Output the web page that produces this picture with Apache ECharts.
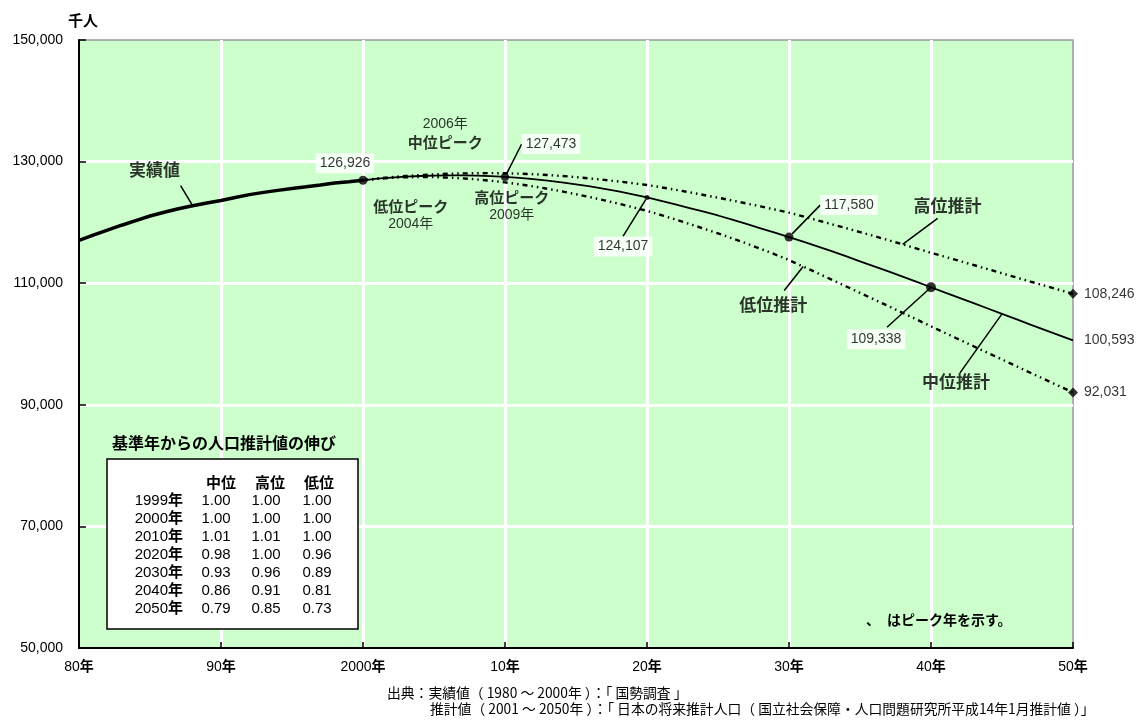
<!DOCTYPE html>
<html>
<head>
<meta charset="utf-8">
<title>日本の人口推移と将来推計</title>
<script src="https://cdn.jsdelivr.net/npm/echarts@6/dist/echarts.min.js"></script>
<style>
  html, body { margin: 0; padding: 0; background: #fff; }
  #chart { width: 1142px; height: 720px; }
</style>
</head>
<body>
<div id="chart"></div>
<script>
// ---- data (千人) ----
const actualStartYear = 1980;
const actualPop = [117060, 117902, 118728, 119536, 120305, 121049, 121660, 122239, 122745, 123205,
  123611, 124101, 124567, 124938, 125265, 125570, 125864, 126166, 126486, 126686, 126926];

const projStartYear = 2000;
const midPop = [126926,
  127183, 127377, 127524, 127635, 127708, 127741, 127733, 127686, 127599, 127473,
  127309, 127107, 126865, 126585, 126266, 125910, 125517, 125087, 124621, 124107,
  123530, 122950, 122360, 121760, 121136, 120440, 119740, 119030, 118310, 117580,
  116830, 116050, 115260, 114440, 113600, 112770, 111930, 111070, 110210, 109338,
  108460, 107590, 106710, 105840, 104960, 104080, 103200, 102330, 101460, 100593];
const highPop = [126926,
  127210, 127440, 127630, 127790, 127910, 128000, 128060, 128090, 128100, 128080,
  128020, 127930, 127800, 127640, 127450, 127230, 126990, 126730, 126450, 126150,
  125770, 125370, 124950, 124510, 124060, 123600, 123120, 122630, 122120, 121600,
  120980, 120350, 119710, 119060, 118400, 117740, 117070, 116390, 115700, 115000,
  114340, 113670, 112990, 112310, 111630, 110950, 110270, 109600, 108920, 108246];
const lowPop = [126926,
  127150, 127320, 127420, 127460, 127440, 127370, 127240, 127070, 126850, 126580,
  126270, 125920, 125530, 125100, 124640, 124150, 123630, 123080, 122500, 121900,
  121200, 120480, 119740, 118980, 118200, 117380, 116540, 115660, 114760, 113800,
  112740, 111670, 110590, 109500, 108410, 107320, 106230, 105130, 104020, 102900,
  101810, 100720, 99630, 98540, 97450, 96360, 95270, 94190, 93110, 92031];

const xTickYears = [1980, 1990, 2000, 2010, 2020, 2030, 2040, 2050];
const xTickText = ['80', '90', '2000', '10', '20', '30', '40', '50'];
const yTicks = [50000, 70000, 90000, 110000, 130000, 150000];

// 基準年からの人口推計値の伸び
const tableYears = ['1999', '2000', '2010', '2020', '2030', '2040', '2050'];
const ratioMid  = [1.00, 1.00, 1.01, 0.98, 0.93, 0.86, 0.79];
const ratioHigh = [1.00, 1.00, 1.01, 1.00, 0.96, 0.91, 0.85];
const ratioLow  = [1.00, 1.00, 1.00, 0.96, 0.89, 0.81, 0.73];

const peakYears = { mid: 2006, high: 2009, low: 2004 };

// ---- helpers ----
const FONT = "'Liberation Sans', Arial, 'Noto Sans CJK JP', sans-serif";
const JP = "'Noto Sans CJK JP', 'Liberation Sans', sans-serif";
const toPairs = (start, arr) => arr.map((v, i) => [start + i, v]);
const at = (start, arr, year) => [year, arr[year - start]];
const fmt = v => v.toLocaleString('en-US');

const valueLabel = {
  show: true, position: 'inside', color: '#000', fontFamily: FONT, fontSize: 14,
  backgroundColor: '#fff', padding: [3, 4], formatter: p => fmt(p.value[1])
};
const leader = { show: true, lineStyle: { color: '#000', width: 1.5 } };
const dashDot = { color: '#000', width: 2.4, type: [5, 4, 1.5, 4, 1.5, 4], cap: 'butt' };

// label displacement for each callout (pixels)
const calloutShift = [[46, -33], [-24, 49], [60, -32], [-55, 52]];
const nameShift = [[-38, -36], [45, -39], [-30, 38], [-46, 68]];
const peakShift = [[-3, -42], [-9, 38], [21, 33]];

// hand-drawn leader lines: anchor point on a series and the pixel offset of the far end
const leaderLines = [
  { point: at(actualStartYear, actualPop, 1988), end: [-12, -20] },
  { point: at(projStartYear, highPop, 2038), end: [35, -26] },
  { point: at(projStartYear, lowPop, 2031), end: [-19, 24] },
  { point: at(projStartYear, midPop, 2045), end: [-42, 59] },
  { point: at(projStartYear, midPop, 2040), end: [-44, 40] }
];

const chart = echarts.init(document.getElementById('chart'), null, { renderer: 'canvas' });

const option = {
  animation: false,
  backgroundColor: '#fff',
  textStyle: { fontFamily: FONT },
  grid: {
    left: 79, right: 69, top: 40, bottom: 72,
    show: true, backgroundColor: '#CCFFCC', borderColor: '#999', borderWidth: 1.5,
    outerBoundsMode: 'none'
  },
  xAxis: {
    type: 'value', min: 1980, max: 2050, interval: 10,
    axisLine: { show: true, onZero: false, lineStyle: { color: '#000', width: 2 } },
    axisTick: { show: true, inside: true, length: 6, lineStyle: { color: '#000', width: 1.5 } },
    splitLine: { show: true, showMinLine: false, showMaxLine: false, lineStyle: { color: '#fff', width: 3 } },
    axisLabel: {
      margin: 12,
      formatter: v => {
        const i = xTickYears.indexOf(v);
        return i < 0 ? '' : '{n|' + xTickText[i] + '}{y|年}';
      },
      rich: {
        n: { fontFamily: FONT, fontSize: 14, color: '#000' },
        y: { fontFamily: FONT, fontSize: 14, fontWeight: 'bold', color: '#000' }
      }
    }
  },
  yAxis: {
    type: 'value', min: yTicks[0], max: yTicks[yTicks.length - 1], interval: yTicks[1] - yTicks[0],
    name: '千人', nameLocation: 'end', nameGap: 12,
    nameTextStyle: { fontFamily: JP, fontSize: 15, fontWeight: 'bold', color: '#000', align: 'left', padding: [0, 0, 0, -11] },
    axisLine: { show: true, onZero: false, lineStyle: { color: '#000', width: 2 } },
    axisTick: { show: true, inside: true, length: 7, lineStyle: { color: '#000', width: 1.5 } },
    splitLine: { show: true, showMinLine: false, showMaxLine: false, lineStyle: { color: '#fff', width: 3 } },
    axisLabel: { margin: 16, fontFamily: FONT, fontSize: 14, color: '#000', formatter: v => fmt(v) }
  },
  series: [
    {
      name: '実績値', type: 'line', data: toPairs(actualStartYear, actualPop),
      symbol: 'none', lineStyle: { color: '#000', width: 3.5 }, z: 4
    },
    {
      name: '高位推計', type: 'line', data: toPairs(projStartYear, highPop),
      symbol: 'none', lineStyle: dashDot, z: 3
    },
    {
      name: '低位推計', type: 'line', data: toPairs(projStartYear, lowPop),
      symbol: 'none', lineStyle: dashDot, z: 3
    },
    {
      name: '中位推計', type: 'line', data: toPairs(projStartYear, midPop),
      symbol: 'none', lineStyle: { color: '#000', width: 1.8 }, z: 3
    },
    // 2000年の実績値
    {
      type: 'scatter', z: 6, symbol: 'circle', symbolSize: 9,
      itemStyle: { color: '#000' },
      data: [at(actualStartYear, actualPop, 2000)],
      label: valueLabel,
      labelLayout: () => ({ dx: -18, dy: -17 })
    },
    // 中位推計の節目
    {
      type: 'scatter', z: 6, symbol: 'circle',
      itemStyle: { color: '#000' },
      data: [
        { value: at(projStartYear, midPop, 2010), symbolSize: 8 },
        { value: at(projStartYear, midPop, 2020), symbolSize: 5 },
        { value: at(projStartYear, midPop, 2030), symbolSize: 9 },
        { value: at(projStartYear, midPop, 2040), symbolSize: 10, labelLine: { show: false } }
      ],
      label: valueLabel,
      labelLine: leader,
      labelLayout: p => ({ dx: calloutShift[p.dataIndex][0], dy: calloutShift[p.dataIndex][1] })
    },
    // 2050年の値
    {
      type: 'scatter', z: 6,
      itemStyle: { color: '#000' },
      label: { show: true, position: 'right', color: '#000', fontFamily: FONT, fontSize: 14, formatter: p => fmt(p.value[1]) },
      data: [
        { value: at(projStartYear, highPop, 2050), symbol: 'diamond', symbolSize: 10, label: { distance: 6 } },
        { value: at(projStartYear, midPop, 2050), symbol: 'circle', symbolSize: 0, label: { distance: 11 } },
        { value: at(projStartYear, lowPop, 2050), symbol: 'diamond', symbolSize: 10, label: { distance: 6 } }
      ]
    },
    // 系列名の注記
    {
      type: 'scatter', z: 7, symbolSize: 1,
      itemStyle: { color: 'rgba(0,0,0,0)' },
      data: [
        { name: '実績値', value: at(actualStartYear, actualPop, 1988) },
        { name: '高位推計', value: at(projStartYear, highPop, 2038) },
        { name: '低位推計', value: at(projStartYear, lowPop, 2031) },
        { name: '中位推計', value: at(projStartYear, midPop, 2045) }
      ],
      label: { show: true, position: 'inside', formatter: '{b}', color: '#000', fontFamily: JP, fontSize: 17, fontWeight: 'bold' },
      labelLayout: p => ({ dx: nameShift[p.dataIndex][0], dy: nameShift[p.dataIndex][1] })
    },
    // ピーク年の注記
    {
      type: 'scatter', z: 7, symbolSize: 1,
      itemStyle: { color: 'rgba(0,0,0,0)' },
      data: [
        { value: at(projStartYear, midPop, peakYears.mid), label: { formatter: '{r|' + peakYears.mid + '年}\n{b|中位ピーク}' } },
        { value: at(projStartYear, lowPop, peakYears.low), label: { formatter: '{b|低位ピーク}\n{r|' + peakYears.low + '年}' } },
        { value: at(projStartYear, highPop, peakYears.high), label: { formatter: '{b|高位ピーク}\n{r|' + peakYears.high + '年}' } }
      ],
      label: {
        show: true, position: 'inside', align: 'center', color: '#000',
        rich: {
          r: { fontFamily: FONT, fontSize: 14, color: '#000', lineHeight: 18, align: 'center' },
          b: { fontFamily: JP, fontSize: 15, fontWeight: 'bold', color: '#000', lineHeight: 18, align: 'center' }
        }
      },
      labelLayout: p => ({ dx: peakShift[p.dataIndex][0], dy: peakShift[p.dataIndex][1] })
    }
  ]
};

// 伸び率の表
const tableChildren = [
  { type: 'text', z: 100, left: 112, top: 435, style: { text: '基準年からの人口推計値の伸び', font: 'bold 16px ' + JP, fill: '#000' } },
  { type: 'rect', z: 100, shape: { x: 107, y: 459, width: 251, height: 170 }, style: { fill: '#fff', stroke: '#000', lineWidth: 1.5 } }
];
const colX = [216, 266, 317];
const headX = [221, 270, 319];
['中位', '高位', '低位'].forEach((h, j) => {
  tableChildren.push({ type: 'text', z: 101, x: headX[j], y: 482, style: { text: h, font: 'bold 15px ' + JP, fill: '#000', align: 'center', verticalAlign: 'middle' } });
});
tableYears.forEach((yr, i) => {
  const y = 501 + 18 * i;
  tableChildren.push({
    type: 'text', z: 101, x: 183, y: y,
    style: {
      text: '{n|' + yr + '}{y|年}', align: 'right', verticalAlign: 'middle',
      rich: { n: { font: '15px ' + FONT, fill: '#000' }, y: { font: 'bold 15px ' + FONT, fill: '#000' } }
    }
  });
  [ratioMid, ratioHigh, ratioLow].forEach((arr, j) => {
    tableChildren.push({ type: 'text', z: 101, x: colX[j], y: y, style: { text: arr[i].toFixed(2), font: '15px ' + FONT, fill: '#000', align: 'center', verticalAlign: 'middle' } });
  });
});

option.graphic = [
  ...tableChildren,
  { type: 'text', z: 100, left: 866, top: 613, style: { text: '、　はピーク年を示す。', font: 'bold 14px ' + JP, fill: '#000' } },
  { type: 'text', z: 100, left: 387, top: 686, style: { text: '出典：実績値（ 1980 ～ 2000年 ）：「 国勢調査 」', font: '13.8px ' + JP, fill: '#000' } },
  { type: 'text', z: 100, left: 430, top: 702, style: { text: '推計値（ 2001 ～ 2050年 ）：「 日本の将来推計人口（ 国立社会保障・人口問題研究所平成14年1月推計値 ）」', font: '13.8px ' + JP, fill: '#000' } }
];

chart.setOption(option);

// leader lines need pixel positions of their anchor points
leaderLines.forEach(l => {
  const a = chart.convertToPixel({ gridIndex: 0 }, l.point);
  option.graphic.push({
    type: 'line', z: 50,
    shape: { x1: a[0], y1: a[1], x2: a[0] + l.end[0], y2: a[1] + l.end[1] },
    style: { stroke: '#000', lineWidth: 1.5 }
  });
});
chart.setOption(option, true);
</script>
</body>
</html>
